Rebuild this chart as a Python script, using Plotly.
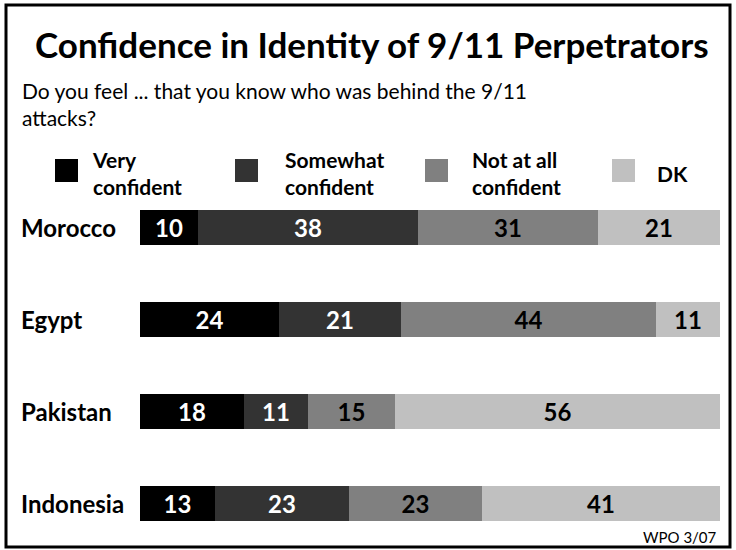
import plotly.graph_objects as go

countries = ["Morocco", "Egypt", "Pakistan", "Indonesia"]
series_names = ["Very confident", "Somewhat confident", "Not at all confident", "DK"]
legend_labels = ["Very<br>confident", "Somewhat<br>confident", "Not at all<br>confident", "DK"]
very = [10, 24, 18, 13]
somewhat = [38, 21, 11, 23]
not_at_all = [31, 44, 15, 23]
dk = [21, 11, 56, 41]

values = [very, somewhat, not_at_all, dk]
colors = ["#000000", "#333333", "#808080", "#c0c0c0"]
text_colors = ["#ffffff", "#ffffff", "#000000", "#000000"]

FONT = "Lato, Roboto, sans-serif"

W, H = 736, 550
ML, MR, MT, MB = 140, 16, 200, 20
PW, PH = W - ML - MR, H - MT - MB

def px(x):
    return (x - ML) / PW

def py(y):
    return (H - MB - y) / PH

ypos = list(range(len(countries)))

fig = go.Figure()
for name, vals, col, tcol in zip(series_names, values, colors, text_colors):
    fig.add_trace(go.Bar(
        y=ypos, x=vals, orientation="h", name=name,
        marker=dict(color=col, line=dict(width=0)),
        text=[str(v) for v in vals], textposition="inside",
        insidetextanchor="middle", constraintext="none",
        textfont=dict(family=FONT, size=24, color=tcol, weight="bold"),
        width=0.39, showlegend=False, hoverinfo="skip",
    ))

shapes = []
annotations = []

# border
shapes.append(dict(type="rect", xref="paper", yref="paper",
                   x0=px(6), x1=px(730), y0=py(547), y1=py(5),
                   line=dict(color="#000000", width=3), fillcolor="rgba(0,0,0,0)"))

# title
annotations.append(dict(text="<b>Confidence in Identity of 9/11 Perpetrators</b>",
                        xref="paper", yref="paper", x=px(372), y=py(44),
                        xanchor="center", yanchor="middle", showarrow=False,
                        font=dict(family=FONT, size=35, color="#000000")))
annotations.append(dict(text="Do you feel ... that you know who was behind the 9/11<br>attacks?",
                        xref="paper", yref="paper", x=px(20), y=py(104),
                        xanchor="left", yanchor="middle", align="left", showarrow=False,
                        font=dict(family=FONT, size=21, color="#000000")))

# legend
sq_x = [55, 235, 425, 612]
txt_x = [90, 283, 470, 655]
for sx, tx, lab, col in zip(sq_x, txt_x, legend_labels, colors):
    shapes.append(dict(type="rect", xref="paper", yref="paper",
                       x0=px(sx), x1=px(sx + 23), y0=py(182), y1=py(159),
                       line=dict(width=0), fillcolor=col))
    annotations.append(dict(text="<b>" + lab + "</b>", xref="paper", yref="paper",
                            x=px(tx), y=py(173), xanchor="left", yanchor="middle",
                            align="left", showarrow=False,
                            font=dict(family=FONT, size=21, color="#000000")))

# category labels
for i, c in enumerate(countries):
    annotations.append(dict(text="<b>" + c + "</b>", xref="paper", yref="y",
                            x=px(19), y=i, xanchor="left", yanchor="middle",
                            showarrow=False, font=dict(family=FONT, size=24, color="#000000")))

annotations.append(dict(text="WPO 3/07", xref="paper", yref="paper",
                        x=px(719), y=py(537), xanchor="right", yanchor="middle",
                        showarrow=False, font=dict(family=FONT, size=15, color="#000000")))

# y range: 92 px per category, first center at 227.5 px
unit = 92.0
top_val = -(227.5 - MT) / unit
bot_val = top_val + PH / unit

fig.update_layout(
    width=W, height=H, barmode="stack",
    margin=dict(l=ML, r=MR, t=MT, b=MB, pad=0),
    paper_bgcolor="#ffffff", plot_bgcolor="#ffffff",
    xaxis=dict(range=[0, 100], visible=False, fixedrange=True),
    yaxis=dict(range=[bot_val, top_val], visible=False, fixedrange=True),
    shapes=shapes, annotations=annotations, bargap=0,
)

fig.write_html("out.html", config={"displayModeBar": False},
               post_script="document.body.style.margin='0';")
